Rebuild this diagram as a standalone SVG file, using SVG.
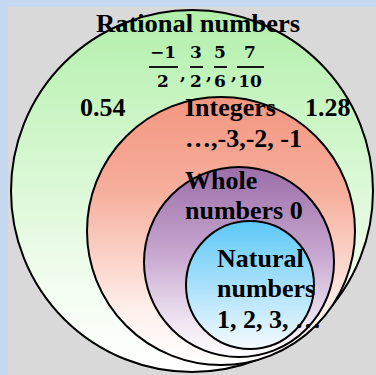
<svg xmlns="http://www.w3.org/2000/svg" width="376" height="375" viewBox="0 0 376 375">
<defs>
<linearGradient id="gGreen" x1="0" y1="0" x2="0" y2="1"><stop offset="0" stop-color="#b2f0aa"/><stop offset="0.75" stop-color="#f2fdef"/><stop offset="1" stop-color="#ffffff"/></linearGradient>
<linearGradient id="gRed" x1="0" y1="0" x2="0" y2="1"><stop offset="0" stop-color="#f39680"/><stop offset="0.35" stop-color="#f6ae9c"/><stop offset="0.8" stop-color="#fff0ec"/><stop offset="1" stop-color="#ffffff"/></linearGradient>
<linearGradient id="gPurple" x1="0" y1="0" x2="0" y2="1"><stop offset="0" stop-color="#9b6ea8"/><stop offset="0.45" stop-color="#c6a6cf"/><stop offset="0.85" stop-color="#f3eaf4"/><stop offset="1" stop-color="#ffffff"/></linearGradient>
<linearGradient id="gBlue" x1="0" y1="0" x2="0" y2="1"><stop offset="0" stop-color="#5cc8f6"/><stop offset="0.5" stop-color="#a9e0fb"/><stop offset="1" stop-color="#f5fbff"/></linearGradient>
</defs>
<style>
.set{stroke:#000;stroke-width:2}
.lbl{font-family:"Liberation Serif","Times New Roman",serif;font-weight:bold;font-size:26px;fill:#000}
.frac{font-family:"DejaVu Serif","Liberation Serif",serif;font-weight:bold;font-size:17px;fill:#000;text-anchor:middle}
.bar{stroke:#000;stroke-width:1.8}
</style>
<rect x="0" y="0" width="376" height="375" fill="#c6d9f0"/>
<rect x="8" y="7" width="368" height="368" fill="#d9d9d9"/>
<g id="rational">
<circle class="set" cx="192" cy="191" r="181" fill="url(#gGreen)"/>
</g>
<g id="integers">
<circle class="set" cx="221" cy="231" r="134" fill="url(#gRed)"/>
</g>
<g id="whole">
<circle class="set" cx="239" cy="262" r="95" fill="url(#gPurple)"/>
</g>
<g id="natural">
<circle class="set" cx="250" cy="285" r="64" fill="url(#gBlue)"/>
</g>
<g id="rational-labels">
<text class="lbl" x="96" y="32" textLength="204" lengthAdjust="spacingAndGlyphs">Rational numbers</text>
<text class="frac" x="163" y="58">−1</text>
<line class="bar" x1="149" y1="67" x2="178" y2="67"/>
<text class="frac" x="163" y="87">2</text>
<text class="frac" x="183" y="80">,</text>
<text class="frac" x="196" y="58">3</text>
<line class="bar" x1="190" y1="67" x2="203" y2="67"/>
<text class="frac" x="196" y="87">2</text>
<text class="frac" x="209" y="80">,</text>
<text class="frac" x="220" y="58">5</text>
<line class="bar" x1="214" y1="67" x2="227" y2="67"/>
<text class="frac" x="220" y="87">6</text>
<text class="frac" x="234" y="80">,</text>
<text class="frac" x="250" y="58">7</text>
<line class="bar" x1="237" y1="67" x2="264" y2="67"/>
<text class="frac" x="250" y="87">10</text>
<text class="lbl" x="80" y="116">0.54</text>
<text class="lbl" x="305" y="116">1.28</text>
</g>
<g id="integers-labels">
<text class="lbl" x="185" y="116">Integers</text>
<text class="lbl" x="185" y="147">…,-3,-2, -1</text>
</g>
<g id="whole-labels">
<text class="lbl" x="185" y="189">Whole</text>
<text class="lbl" x="185" y="219">numbers 0</text>
</g>
<g id="natural-labels">
<text class="lbl" x="217" y="267">Natural</text>
<text class="lbl" x="217" y="297">numbers</text>
<text class="lbl" x="217" y="328">1, 2, 3, …</text>
</g>
<g id="connectors"/>
</svg>
